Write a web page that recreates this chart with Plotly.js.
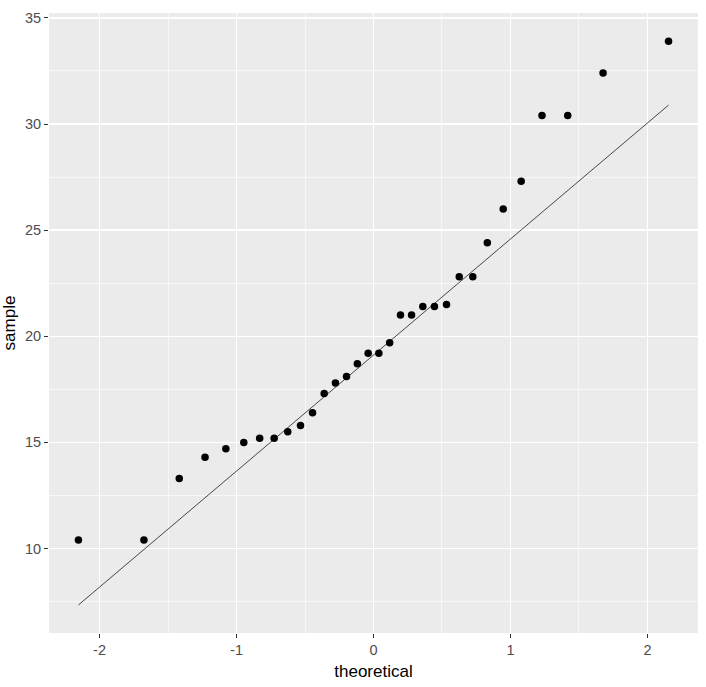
<!DOCTYPE html>
<html>
<head>
<meta charset="utf-8">
<script src="https://cdn.plot.ly/plotly-3.0.1.min.js"></script>
<style>html,body{margin:0;padding:0;background:#fff;}#plot{width:706px;height:687px;}</style>
</head>
<body>
<div id="plot"></div>
<script>
// theoretical normal quantiles (32 points)
var theoretical = [-2.154, -1.676, -1.418, -1.230, -1.078, -0.947, -0.831, -0.725,
  -0.626, -0.533, -0.445, -0.360, -0.278, -0.197, -0.118, -0.039,
  0.039, 0.118, 0.197, 0.278, 0.360, 0.445, 0.533, 0.626,
  0.725, 0.831, 0.947, 1.078, 1.230, 1.418, 1.676, 2.154];
// sample values
var sample = [10.4, 10.4, 13.3, 14.3, 14.7, 15.0, 15.2, 15.2,
  15.5, 15.8, 16.4, 17.3, 17.8, 18.1, 18.7, 19.2,
  19.2, 19.7, 21.0, 21.0, 21.4, 21.4, 21.5, 22.8,
  22.8, 24.4, 26.0, 27.3, 30.4, 30.4, 32.4, 33.9];
// reference line endpoints
var lineX = [-2.154, 2.154];
var lineY = [7.34, 30.89];
var xTicks = [-2, -1, 0, 1, 2];
var yTicks = [10, 15, 20, 25, 30, 35];

var traces = [
  {x: lineX, y: lineY, mode: 'lines', type: 'scatter',
   line: {color: '#333333', width: 0.9}, hoverinfo: 'skip'},
  {x: theoretical, y: sample, mode: 'markers', type: 'scatter',
   marker: {color: '#000000', size: 7.5}}
];

var font = {family: '"Liberation Sans", Arial, sans-serif'};
var layout = {
  width: 706, height: 687,
  margin: {l: 49, r: 8, t: 13, b: 54},
  paper_bgcolor: '#ffffff',
  plot_bgcolor: '#EBEBEB',
  showlegend: false,
  font: font,
  xaxis: {
    range: [-2.369, 2.369],
    tickvals: xTicks, ticktext: xTicks.map(String),
    showgrid: true, gridcolor: '#ffffff', gridwidth: 1.3,
    minor: {dtick: 0.5, tick0: -2.5, showgrid: true, gridcolor: '#ffffff', gridwidth: 0.6, ticks: ''},
    zeroline: false, showline: false,
    ticks: 'outside', ticklen: 4, tickwidth: 1, tickcolor: '#333333',
    tickfont: {family: font.family, size: 14.5, color: '#4D4D4D'},
    title: {text: 'theoretical', font: {family: font.family, size: 17, color: '#000000'}, standoff: 7}
  },
  yaxis: {
    range: [6.02, 35.23],
    tickvals: yTicks, ticktext: yTicks.map(String),
    showgrid: true, gridcolor: '#ffffff', gridwidth: 1.3,
    minor: {dtick: 2.5, tick0: 7.5, showgrid: true, gridcolor: '#ffffff', gridwidth: 0.6, ticks: ''},
    zeroline: false, showline: false,
    ticks: 'outside', ticklen: 4, tickwidth: 1, tickcolor: '#333333',
    tickfont: {family: font.family, size: 14.5, color: '#4D4D4D'},
    title: {text: 'sample', font: {family: font.family, size: 17, color: '#000000'}, standoff: 5}
  }
};
Plotly.newPlot('plot', traces, layout, {displayModeBar: false, staticPlot: true});
</script>
</body>
</html>
